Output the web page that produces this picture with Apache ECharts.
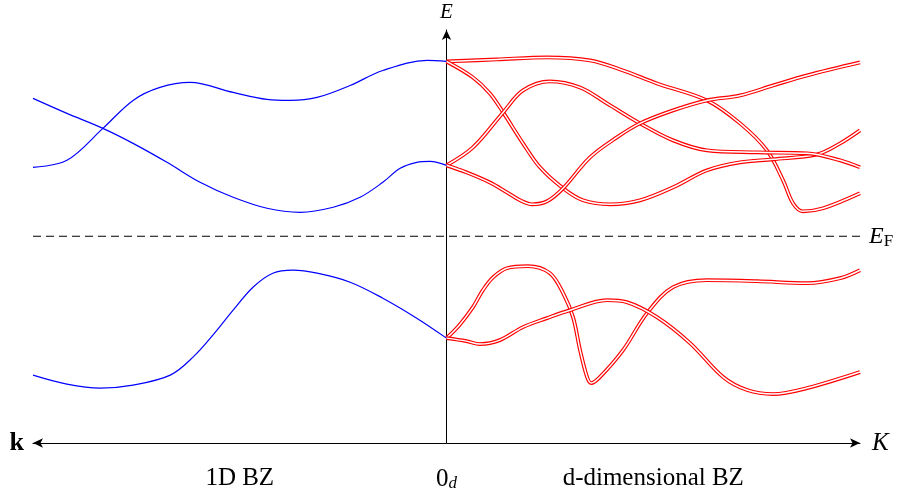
<!DOCTYPE html>
<html>
<head>
<meta charset="utf-8">
<script src="https://cdn.jsdelivr.net/npm/echarts@6/dist/echarts.min.js"></script>
<style>html,body{margin:0;padding:0;background:#fff;}#chart{width:901px;height:498px;}</style>
</head>
<body>
<div id="chart"></div>
<script>
// ---- data (k in units of half-axis, E relative to Fermi level) ----
const kBlueA = [-1.000,-0.918,-0.831,-0.758,-0.676,-0.596,-0.516,-0.434,-0.354,-0.274,-0.209,-0.154,-0.112,-0.072,-0.040,0];
const eBlueA = [1.38,1.23,1.08,0.93,0.74,0.54,0.39,0.28,0.24,0.29,0.39,0.54,0.68,0.74,0.75,0.71];

const kBlueB = [-1.000,-0.918,-0.831,-0.758,-0.693,-0.620,-0.516,-0.434,-0.378,-0.313,-0.233,-0.154,-0.047,0];
const eBlueB = [0.69,0.76,1.08,1.36,1.49,1.54,1.44,1.37,1.36,1.39,1.51,1.66,1.76,1.75];

const kBlueC = [-1.000,-0.918,-0.838,-0.758,-0.668,-0.613,-0.565,-0.516,-0.468,-0.420,-0.371,-0.313,-0.233,-0.154,-0.072,0];
const eBlueC = [-1.39,-1.48,-1.52,-1.49,-1.39,-1.21,-0.99,-0.74,-0.51,-0.37,-0.34,-0.37,-0.46,-0.62,-0.82,-1.02];

const kRed1 = [0,0.122,0.243,0.347,0.427,0.509,0.630,0.710,0.775,0.814,0.838,0.862,0.911,1.0];
const eRed1 = [1.75,1.77,1.79,1.76,1.66,1.53,1.36,1.13,0.86,0.56,0.33,0.25,0.28,0.43];

const kRed2 = [0,0.064,0.105,0.137,0.185,0.226,0.282,0.330,0.396,0.468,0.548,0.630,0.710,0.790,0.896,0.952,1.0];
const eRed2 = [1.75,1.59,1.43,1.24,0.93,0.69,0.48,0.36,0.32,0.36,0.49,0.66,0.74,0.77,0.82,0.93,1.06];

const kRed3 = [0,0.064,0.137,0.185,0.250,0.323,0.388,0.468,0.548,0.630,0.751,0.872,0.952,1.0];
const eRed3 = [0.71,0.89,1.24,1.46,1.55,1.49,1.33,1.13,0.96,0.86,0.84,0.83,0.76,0.69];

const kRed4 = [0,0.048,0.104,0.146,0.178,0.207,0.243,0.282,0.347,0.412,0.468,0.548,0.630,0.710,0.790,0.872,1.0];
const eRed4 = [0.71,0.64,0.54,0.44,0.36,0.32,0.35,0.48,0.79,0.99,1.13,1.26,1.36,1.41,1.51,1.61,1.74];

const kRed5 = [0,0.031,0.064,0.088,0.113,0.146,0.197,0.250,0.282,0.306,0.323,0.340,0.350,0.371,0.427,0.485,0.548,0.630,0.751,0.872,0.952,1.0];
const eRed5 = [-1.02,-0.89,-0.71,-0.54,-0.41,-0.32,-0.30,-0.37,-0.57,-0.81,-1.14,-1.41,-1.47,-1.41,-1.14,-0.77,-0.51,-0.44,-0.45,-0.47,-0.42,-0.34];

const kRed6 = [0,0.048,0.081,0.129,0.185,0.243,0.299,0.388,0.436,0.509,0.589,0.669,0.727,0.790,0.872,1.0];
const eRed6 = [-1.02,-1.05,-1.08,-1.04,-0.91,-0.82,-0.74,-0.64,-0.66,-0.81,-1.07,-1.41,-1.54,-1.58,-1.52,-1.36];

const fermiK = [-1, 1];
const fermiE = [0, 0];

const labelValues = [-0.5, 0, 0.5];
const labelTexts = ['{t|1D BZ}', '{t|0}{sub|d}', '{t|d-dimensional BZ}'];

// ---- chart ----
const FONT = '"Liberation Serif", "DejaVu Serif", serif';
const SMOOTH = 0.35;
const zip = (a, b) => a.map((v, i) => [v, b[i]]);

function blue(ks, es) {
  return { type: 'line', data: zip(ks, es), smooth: SMOOTH, symbol: 'none',
    lineStyle: { color: '#0000ff', width: 1.2 }, z: 3 };
}
function redPair(ks, es) {
  const d = zip(ks, es);
  return [
    { type: 'line', data: d, smooth: SMOOTH, symbol: 'none', lineStyle: { color: '#ff0000', width: 3.8 }, z: 2 },
    { type: 'line', data: d, smooth: SMOOTH, symbol: 'none', lineStyle: { color: '#ffffff', width: 1.5 }, z: 2 }
  ];
}

const series = [
  { type: 'line', data: zip(fermiK, fermiE), symbol: 'none',
    lineStyle: { color: '#000', width: 1, type: [8, 5] },
    endLabel: { show: true, formatter: '{e|E}{f|F}', distance: 9,
      rich: { e: { fontFamily: FONT, fontStyle: 'italic', fontSize: 24, color: '#000' },
              f: { fontFamily: FONT, fontSize: 17, color: '#000', padding: [10, 0, 0, 0] } } }, z: 1 },
  blue(kBlueA, eBlueA), blue(kBlueB, eBlueB), blue(kBlueC, eBlueC),
  ...redPair(kRed1, eRed1), ...redPair(kRed2, eRed2), ...redPair(kRed3, eRed3),
  ...redPair(kRed4, eRed4), ...redPair(kRed5, eRed5), ...redPair(kRed6, eRed6)
];

const chart = echarts.init(document.getElementById('chart'), null, { renderer: 'canvas' });
chart.setOption({
  animation: false,
  backgroundColor: '#fff',
  grid: { left: 33, right: 41, top: 30, bottom: 55, containLabel: false },
  xAxis: [{
    type: 'value', min: -1, max: 1,
    name: 'K', nameLocation: 'end', nameGap: 12,
    nameTextStyle: { fontFamily: FONT, fontStyle: 'italic', fontSize: 25, color: '#000', verticalAlign: 'middle' },
    axisLine: { onZero: false, symbol: ['arrow', 'arrow'], symbolSize: [7, 10], lineStyle: { color: '#000', width: 1 } },
    axisTick: { show: false }, splitLine: { show: false },
    axisLabel: { customValues: labelValues, margin: 23, fontFamily: FONT, fontSize: 25, color: '#000',
      formatter: v => labelTexts[labelValues.indexOf(v)] || '',
      rich: { t: { fontFamily: FONT, fontSize: 25, color: '#000' },
              sub: { fontFamily: FONT, fontStyle: 'italic', fontSize: 17, color: '#000', padding: [9, 0, 0, 0] } } }
  }, {
    type: 'value', min: -1, max: 1, position: 'bottom',
    name: 'k', nameLocation: 'start', nameGap: 9,
    nameTextStyle: { fontFamily: FONT, fontWeight: 'bold', fontSize: 26, color: '#000', verticalAlign: 'middle' },
    axisLine: { show: false, onZero: false }, axisTick: { show: false }, axisLabel: { show: false }, splitLine: { show: false }
  }],
  yAxis: {
    type: 'value', min: -2.07, max: 2.065,
    name: 'E', nameLocation: 'end', nameGap: 7,
    nameTextStyle: { fontFamily: FONT, fontStyle: 'italic', fontSize: 21, color: '#000' },
    axisLine: { onZero: true, symbol: ['none', 'arrow'], symbolSize: [7, 10], lineStyle: { color: '#000', width: 1 } },
    axisTick: { show: false }, axisLabel: { show: false }, splitLine: { show: false }
  },
  series: series
});
</script>
</body>
</html>
